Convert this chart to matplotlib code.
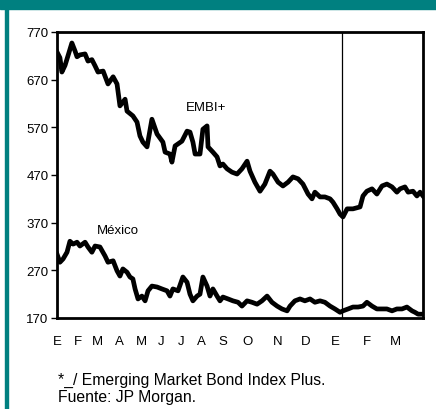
import matplotlib.pyplot as plt
import matplotlib.patches as patches

plt.rcParams['font.family'] = ['Liberation Sans', 'DejaVu Sans']

# x in months from January (year 1)
embi_x = [0.0, 0.12, 0.2, 0.33, 0.45, 0.61, 0.74, 0.82, 0.94, 1.15, 1.27, 1.43, 1.56, 1.68,
          1.89, 2.09, 2.30, 2.46, 2.58, 2.79, 2.87, 3.11, 3.28, 3.40, 3.52, 3.69, 3.89, 4.10,
          4.34, 4.43, 4.63, 4.71, 4.84, 5.12, 5.33, 5.45, 5.57, 5.66, 5.86, 5.98, 6.15, 6.19,
          6.39, 6.56, 6.68, 6.80, 6.97, 7.17, 7.38, 7.58, 7.79, 7.91, 8.11, 8.32, 8.52, 8.73,
          8.85, 9.06, 9.26, 9.47, 9.67, 9.88, 10.08, 10.29, 10.45, 10.57, 10.78, 10.98, 11.19,
          11.31, 11.48, 11.60, 11.72, 11.89, 12.13, 12.42, 12.54, 12.70, 12.91, 13.11, 13.32,
          13.52, 13.73, 13.93, 14.06, 14.26, 14.39, 14.59, 14.75, 14.88, 15.0]
embi_y = [728, 716, 686, 700, 720, 747, 730, 718, 722, 724, 709, 712, 699, 686,
          688, 661, 676, 661, 615, 629, 604, 594, 581, 552, 539, 529, 587, 556,
          539, 518, 514, 497, 531, 541, 562, 560, 539, 514, 514, 566, 573, 529,
          518, 508, 489, 493, 483, 476, 472, 483, 499, 478, 455, 436, 451, 478,
          472, 455, 447, 455, 466, 462, 451, 430, 420, 434, 424, 424, 420,
          413, 399, 388, 382, 399, 399, 403, 426, 436, 441, 430, 447,
          451, 445, 434, 441, 445, 434, 436, 426, 434, 426]

mex_x = [0.0, 0.12, 0.25, 0.41, 0.53, 0.66, 0.82, 0.94, 1.15, 1.27, 1.43, 1.56, 1.76, 1.97,
         2.09, 2.30, 2.46, 2.58, 2.70, 2.87, 2.99, 3.11, 3.20, 3.32, 3.48, 3.61, 3.73, 3.89,
         4.10, 4.30, 4.51, 4.63, 4.75, 4.96, 5.16, 5.33, 5.45, 5.57, 5.74, 5.86, 5.98, 6.15,
         6.27, 6.39, 6.56, 6.68, 6.80, 7.01, 7.21, 7.42, 7.58, 7.79, 7.99, 8.20, 8.40, 8.61,
         8.81, 9.02, 9.22, 9.43, 9.55, 9.75, 9.96, 10.16, 10.37, 10.57, 10.78, 10.98, 11.19,
         11.39, 11.60, 11.72, 11.93, 12.13, 12.34, 12.54, 12.70, 12.91, 13.11, 13.32, 13.52,
         13.73, 13.93, 14.14, 14.34, 14.55, 14.67, 14.80, 14.96]
mex_y = [304, 287, 294, 308, 331, 325, 329, 321, 329, 319, 308, 321, 319, 300,
         287, 290, 269, 258, 273, 266, 256, 252, 231, 210, 216, 206, 227, 237,
         235, 231, 227, 216, 231, 227, 256, 245, 220, 206, 216, 220, 256, 237,
         216, 231, 216, 206, 214, 210, 206, 203, 195, 206, 203, 199, 206, 216,
         203, 195, 189, 185, 195, 206, 210, 206, 210, 203, 206, 203, 195,
         189, 182, 185, 189, 193, 193, 195, 203, 195, 189, 189, 189,
         185, 189, 189, 193, 185, 182, 178, 178]

month_pos = [0.02, 0.84, 1.66, 2.54, 3.47, 4.26, 5.08, 5.92, 6.80, 7.79, 9.06, 10.2, 11.39, 12.7, 13.85]
month_labels = ['E', 'F', 'M', 'A', 'M', 'J', 'J', 'A', 'S', 'O', 'N', 'D', 'E', 'F', 'M']
y_ticks = [170, 270, 370, 470, 570, 670, 770]
year_break = 11.68

teal = '#008080'

fig = plt.figure(figsize=(4.36, 4.10), dpi=100)
fig.patches.append(patches.Rectangle((0, 1 - 10 / 410), 1, 10 / 410, transform=fig.transFigure,
                                     color=teal, zorder=0))
fig.patches.append(patches.Rectangle((5 / 436, 0), 2.5 / 436, 1, transform=fig.transFigure,
                                     color=teal, zorder=0))

ax = fig.add_axes([57 / 436, 91 / 410, 366 / 436, 286 / 410])
ax.plot(embi_x, embi_y, color='black', lw=3.4, solid_joinstyle='round')
ax.plot(mex_x, mex_y, color='black', lw=3.4, solid_joinstyle='round')
ax.axvline(year_break, color='black', lw=0.9)

ax.set_xlim(0, 15)
ax.set_ylim(170, 770)
ax.set_yticks(y_ticks)
ax.set_xticks(month_pos)
ax.set_xticklabels(month_labels)
ax.tick_params(axis='x', length=0, pad=12, labelsize=9.5)
ax.tick_params(axis='y', direction='out', length=4, width=1, pad=2, labelsize=9.5)
for s in ax.spines.values():
    s.set_linewidth(2.0)

ax.text(5.3, 612, 'EMBI+', fontsize=9.5, ha='left', va='center')
ax.text(1.62, 355, 'México', fontsize=9.5, ha='left', va='center')

fig.text(58 / 436, 1 - 380 / 410, '*_/ Emerging Market Bond Index Plus.', fontsize=11.3, va='center')
fig.text(58 / 436, 1 - 398 / 410, 'Fuente: JP Morgan.', fontsize=11.3, va='center')

fig.savefig('out.png', dpi=100)
